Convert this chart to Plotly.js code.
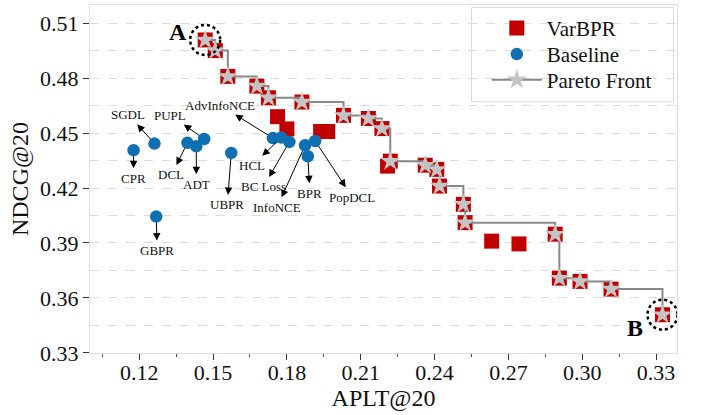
<!DOCTYPE html>
<html>
<head>
<meta charset="utf-8">
<script src="https://cdn.plot.ly/plotly-3.0.1.min.js"></script>
<style>html,body{margin:0;padding:0;background:#fff;}#chart{width:702px;height:415px;}</style>
</head>
<body>
<div id="chart"></div>
<script>
// ---- data ----
const paretoX = [0.1468,0.1509,0.1560,0.1678,0.1725,0.1861,0.2030,0.2131,0.2186,0.2220,0.2362,0.2409,0.2420,0.2517,0.2524,0.2890,0.2907,0.2991,0.3117,0.3326];
const paretoY = [0.5009,0.4951,0.4810,0.4757,0.4693,0.4670,0.4597,0.4580,0.4525,0.4347,0.4325,0.4302,0.4211,0.4111,0.4011,0.3948,0.3708,0.3690,0.3648,0.3508];
const varOtherX = [0.1762,0.1800,0.1937,0.1966,0.2209,0.2632,0.2743];
const varOtherY = [0.4590,0.4523,0.4509,0.4509,0.4320,0.3910,0.3895];
const varX = paretoX.concat(varOtherX);
const varY = paretoY.concat(varOtherY);
const baseNames = ["CPR","SGDL","DCL","ADT","PUPL","UBPR","AdvInfoNCE","HCL","BC Loss","InfoNCE","BPR","PopDCL","GBPR"];
const baseX = [0.1177,0.1262,0.1396,0.1432,0.1464,0.1574,0.1743,0.1777,0.1810,0.1874,0.1885,0.1915,0.1269];
const baseY = [0.4407,0.4443,0.4447,0.4428,0.4468,0.4392,0.4473,0.4476,0.4452,0.4434,0.4374,0.4457,0.4044];
const xTickVals = [0.12,0.15,0.18,0.21,0.24,0.27,0.30,0.33];
const yTickVals = [0.33,0.36,0.39,0.42,0.45,0.48,0.51];

// ---- label placement (pixel offsets of label text from its point) ----
const labelOffset = {
  "CPR":[0,28], "SGDL":[-26,-29], "DCL":[-16,32], "ADT":[0,38], "PUPL":[-34,-24],
  "UBPR":[-4,52], "AdvInfoNCE":[-53,-33], "HCL":[-29,28], "BC Loss":[-26,45],
  "InfoNCE":[-28,62], "BPR":[2,37], "PopDCL":[37,56], "GBPR":[1,34]
};

const serif = "Liberation Serif, Times New Roman, serif";
const red = "#c00000", blue = "#0f6fb3";

const traces = [
  {x: varX, y: varY, type: "scatter", mode: "markers", name: "VarBPR", legend: "legend",
   marker: {symbol: "square", size: 15, color: red, line: {width: 0}}},
  {x: baseX, y: baseY, type: "scatter", mode: "markers", name: "Baseline", legend: "legend2",
   marker: {symbol: "circle", size: 12.5, color: blue, line: {width: 0}}},
  {x: paretoX, y: paretoY, type: "scatter", mode: "lines+markers", name: "Pareto Front", legend: "legend3",
   line: {shape: "hv", color: "#888888", width: 2},
   marker: {symbol: "star", size: 15, color: "#c4c4c4", line: {width: 0}}}
];

const annotations = baseNames.map((n, i) => ({
  x: baseX[i], y: baseY[i], xref: "x", yref: "y",
  text: n, showarrow: true, ax: labelOffset[n][0], ay: labelOffset[n][1],
  arrowside: "start", startarrowhead: 2, startarrowsize: 1.5, arrowwidth: 1,
  arrowcolor: "#000", standoff: 6, startstandoff: 1,
  font: {family: serif, size: 13, color: "#111"}
}));
const nA = 0, nB = paretoX.length - 1;
annotations.push({x: paretoX[nA], y: paretoY[nA], xref: "x", yref: "y", text: "<b>A</b>", showarrow: false,
  xshift: -27, yshift: 8, font: {family: serif, size: 24, color: "#000"}});
annotations.push({x: paretoX[nB], y: paretoY[nB], xref: "x", yref: "y", text: "<b>B</b>", showarrow: false,
  xshift: -27, yshift: -13, font: {family: serif, size: 24, color: "#000"}});

const ring = (i) => ({type: "circle", xref: "x", yref: "y", xsizemode: "pixel", ysizemode: "pixel",
  xanchor: paretoX[i], yanchor: paretoY[i], x0: -15, x1: 15, y0: -15, y1: 15,
  line: {color: "#000", width: 2.5, dash: "dot"}, layer: "above"});

const legendBase = (yc) => ({x: 0.676, y: yc, xanchor: "left", yanchor: "middle", bgcolor: "rgba(0,0,0,0)",
  borderwidth: 0, font: {family: serif, size: 21, color: "#111"}, itemwidth: 50});

const layout = {
  width: 702, height: 415,
  margin: {l: 90, r: 25, t: 5, b: 62},
  paper_bgcolor: "#fff", plot_bgcolor: "#fff",
  font: {family: serif, color: "#111"},
  showlegend: true,
  legend: legendBase(0.933),
  legend2: legendBase(0.858),
  legend3: legendBase(0.784),
  xaxis: {range: [0.1, 0.3385], tickmode: "array", tickvals: xTickVals, ticktext: xTickVals.map(v => v.toFixed(2)),
    ticks: "outside", ticklen: 6, tickcolor: "#333", tickwidth: 1, ticklabelstandoff: -6,
    showline: true, linecolor: "#dddddd", linewidth: 1, mirror: true, zeroline: false,
    showgrid: false,
    minor: {dtick: 0.015, tick0: 0, ticks: "outside", ticklen: 3, tickcolor: "#555", showgrid: false},
    tickfont: {family: serif, size: 22, color: "#111"},
    title: {text: "APLT@20", font: {family: serif, size: 24, color: "#111"}, standoff: 4}},
  yaxis: {range: [0.3299, 0.52], tickmode: "array", tickvals: yTickVals, ticktext: yTickVals.map(v => v.toFixed(2)),
    ticks: "outside", ticklen: 6, tickcolor: "#333", tickwidth: 1,
    showline: true, linecolor: "#dddddd", linewidth: 1, mirror: true, zeroline: false,
    showgrid: true, gridcolor: "#dcdcdc", griddash: "dash", gridwidth: 1,
    minor: {dtick: 0.015, tick0: 0, ticks: "", showgrid: true, gridcolor: "#dcdcdc", griddash: "dash", gridwidth: 1},
    tickfont: {family: serif, size: 22, color: "#111"},
    title: {text: "NDCG@20", font: {family: serif, size: 24, color: "#111"}, standoff: 4}},
  annotations: annotations,
  shapes: [
    ring(nA), ring(nB),
    {type: "rect", xref: "paper", yref: "paper", x0: 0.650, x1: 0.994, y0: 0.722, y1: 0.993,
     line: {color: "#d9d9d9", width: 1}, fillcolor: "#fff", layer: "below"}
  ]
};

Plotly.newPlot("chart", traces, layout, {displayModeBar: false, staticPlot: true});
</script>
</body>
</html>
